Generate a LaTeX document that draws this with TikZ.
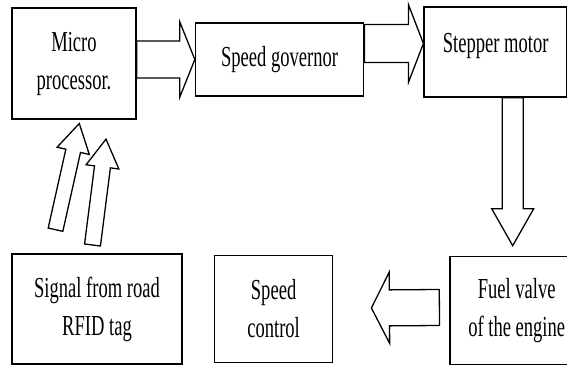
\documentclass[tikz,border=0pt]{standalone}
\usepackage{fontspec}
\setmainfont{Liberation Serif}[FakeStretch=0.64]
\usetikzlibrary{positioning,calc}

\tikzset{
  block/.style={draw, line width=1.6pt, fill=white, align=center, inner sep=2pt,
    font=\fontsize{29}{38}\selectfont},
  fatline/.style={draw, line width=1.3pt, fill=white, line join=miter},
}
% hollow block arrow: start, tip, shaft half width, head half width, head length
\newcommand{\fatarrow}[5]{%
  \coordinate (fs) at (#1);
  \coordinate (ft) at (#2);
  \coordinate (fb) at ($(ft)!#5pt!(fs)$);
  \draw[fatline] ($(fs)!#3pt!90:(ft)$) -- ($(fb)!#3pt!-90:(fs)$) -- ($(fb)!#4pt!-90:(fs)$) -- (ft)
    -- ($(fb)!#4pt!90:(fs)$) -- ($(fb)!#3pt!90:(fs)$) -- ($(fs)!#3pt!-90:(ft)$) -- cycle;
}

\begin{document}
\begin{tikzpicture}[x=1pt,y=1pt]
  \useasboundingbox (0,0) rectangle (567,367);
  \node (micro) [block, minimum width=124pt, minimum height=111pt] at (74,303.5) {Micro\\processor.};
  \node (gov) [block, minimum width=168pt, minimum height=73pt, right=58pt of micro, yshift=4pt] {Speed governor};
  \node (step) [block, minimum width=143pt, minimum height=90pt, text depth=19pt, right=59pt of gov, yshift=7.5pt] {Stepper motor};
  \node (signal) [block, minimum width=170pt, minimum height=110pt] at (97,58) {Signal from road\\RFID tag};
  \node (ctrl) [block, minimum width=118pt, minimum height=107pt, right=31pt of signal] {Speed\\control};
  \node (fuel) [block, minimum width=133pt, minimum height=108pt, right=116pt of ctrl, yshift=-1.5pt] {Fuel valve\\of the engine};

  \fatarrow{micro.east |- gov.west}{gov.west}{18.5}{37.5}{15}
  \fatarrow{$(gov.east)+(0,16)$}{$(gov.east -| step.west)+(0,16)$}{19}{39}{15}
  \fatarrow{$(step.south)+(17,0)$}{$(fuel.north)+(-4,10)$}{10.5}{21}{37}
  \fatarrow{$(fuel.west)+(-10,3)$}{$(ctrl.east)+(38,1)$}{18}{35.5}{18}
  \fatarrow{$(signal.north)+(-41.5,23.5)$}{$(micro.south)+(5.3,-3.7)$}{7.5}{16.5}{28}
  \fatarrow{$(signal.north)+(-4.5,8.2)$}{$(micro.south)+(32,-19.3)$}{8}{16.5}{28}
\end{tikzpicture}
\end{document}
